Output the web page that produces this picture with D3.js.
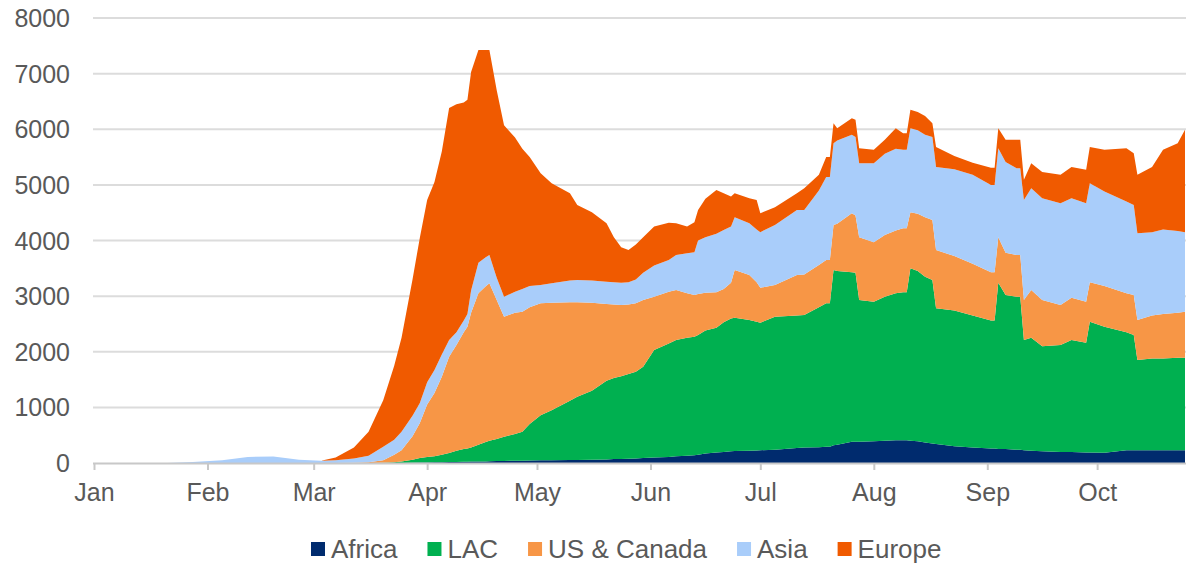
<!DOCTYPE html>
<html>
<head>
<meta charset="utf-8">
<script src="https://cdn.jsdelivr.net/npm/d3@7"></script>
<style>
  body { margin: 0; background: #fff; }
  svg text { font-family: "Liberation Sans", Arial, Helvetica, sans-serif; fill: #595959; }
</style>
</head>
<body>
<div class="chart"></div>
<script>
const dates = ["2020-01-01","2020-01-21","2020-01-28","2020-02-05","2020-02-12","2020-02-19","2020-02-26","2020-03-03","2020-03-07","2020-03-12","2020-03-16","2020-03-20","2020-03-23","2020-03-25","2020-03-28","2020-03-30","2020-04-01","2020-04-03","2020-04-05","2020-04-07","2020-04-09","2020-04-11","2020-04-12","2020-04-13","2020-04-15","2020-04-17","2020-04-18","2020-04-20","2020-04-22","2020-04-25","2020-04-27","2020-04-29","2020-05-02","2020-05-05","2020-05-10","2020-05-12","2020-05-16","2020-05-20","2020-05-22","2020-05-24","2020-05-26","2020-05-28","2020-05-30","2020-06-02","2020-06-06","2020-06-08","2020-06-11","2020-06-13","2020-06-14","2020-06-16","2020-06-19","2020-06-21","2020-06-23","2020-06-24","2020-06-28","2020-06-30","2020-07-01","2020-07-05","2020-07-11","2020-07-13","2020-07-17","2020-07-19","2020-07-20","2020-07-21","2020-07-22","2020-07-26","2020-07-27","2020-07-28","2020-08-01","2020-08-04","2020-08-07","2020-08-09","2020-08-10","2020-08-11","2020-08-13","2020-08-15","2020-08-17","2020-08-18","2020-08-23","2020-08-28","2020-09-02","2020-09-03","2020-09-04","2020-09-06","2020-09-09","2020-09-10","2020-09-11","2020-09-13","2020-09-16","2020-09-21","2020-09-24","2020-09-28","2020-09-29","2020-10-03","2020-10-09","2020-10-11","2020-10-12","2020-10-16","2020-10-19","2020-10-23","2020-10-25"];

const africa = [0,0,0,0,0,0,0,0,0,0,0,0,0,0,5,8,10,12,15,18,20,22,24,25,28,29,30,35,38,40,42,45,50,50,55,55,60,65,70,70,75,80,90,100,110,120,130,140,150,170,190,200,210,215,220,225,230,240,270,280,285,290,290,320,330,380,380,380,390,400,410,410,410,400,390,370,350,340,300,280,260,260,250,250,240,240,230,220,210,200,200,190,190,185,230,230,230,230,230,230,230];

const lac = [0,0,0,0,0,0,0,0,0,0,0,5,15,25,55,82,100,108,135,162,200,228,236,255,302,350,370,395,432,480,518,655,810,900,1065,1135,1240,1415,1460,1490,1525,1560,1640,1930,2040,2090,2120,2130,2150,2210,2240,2330,2390,2395,2350,2315,2290,2390,2380,2380,2515,2580,2580,3150,3120,3050,3040,2550,2510,2590,2640,2660,2660,3100,3060,2980,2940,2440,2440,2370,2300,2300,2990,2770,2750,2750,1980,2030,1890,1920,2010,1970,2350,2265,2120,2070,1620,1650,1650,1660,1660];

const usCanada = [0,0,0,0,0,0,0,0,0,5,15,45,135,205,420,630,940,1140,1400,1730,1900,2100,2190,2420,2720,2800,2830,2500,2160,2180,2160,2100,2010,1930,1770,1700,1580,1380,1320,1280,1250,1230,1200,960,930,900,800,750,740,680,640,600,640,860,810,710,630,570,730,730,760,780,780,810,850,1060,1030,1130,1070,1110,1130,1150,1150,1010,1030,1070,1080,1050,980,930,870,870,820,760,750,750,720,860,830,720,760,740,710,730,700,720,720,770,800,810,830];

const asia = [0,0,20,50,110,115,60,40,50,75,115,240,270,330,370,360,400,410,400,300,230,210,230,400,550,520,510,400,360,380,410,380,330,350,390,400,400,400,400,400,400,430,490,560,570,630,720,770,960,1000,1050,1060,1010,950,930,950,1000,1080,1170,1160,1340,1490,1490,1470,1500,1410,1410,1330,1420,1460,1470,1410,1410,1510,1500,1480,1490,1490,1560,1600,1570,1570,1600,1630,1560,1560,1800,1830,1830,1830,1790,1770,1780,1700,1650,1620,1560,1500,1520,1470,1430];

const europe = [0,0,0,0,0,0,0,0,50,200,430,840,1330,1690,2450,2970,3280,3380,3650,4170,4100,3920,3850,3930,3825,3726,3685,3370,3080,2770,2520,2320,2010,1800,1570,1350,1230,1050,810,640,580,630,640,700,670,570,480,540,550,690,790,660,540,430,450,530,340,320,300,390,280,360,360,360,220,300,310,270,240,250,370,300,300,330,330,340,250,360,240,220,310,310,360,400,510,510,360,450,470,510,560,600,650,750,960,930,1050,1170,1430,1580,1840];

const seriesNames = ["Africa", "LAC", "US & Canada", "Asia", "Europe"];
const seriesColors = ["#002b6e", "#00b050", "#f79646", "#a9cdfa", "#f05a00"];
const yTicks = [0, 1000, 2000, 3000, 4000, 5000, 6000, 7000, 8000];

const parseDate = d3.utcParse("%Y-%m-%d");
const rows = dates.map((d, i) => ({
    date: parseDate(d),
    "Africa": africa[i],
    "LAC": lac[i],
    "US & Canada": usCanada[i],
    "Asia": asia[i],
    "Europe": europe[i]
}));

const width = 1186, height = 564;
const plot = {left: 94, right: 1185, top: 18, bottom: 463};

const svg = d3.select('.chart')
              .append('svg')
              .attr('width', width)
              .attr('height', height);

const xScale = d3.scaleUtc()
                 .domain([parseDate("2020-01-01"), parseDate("2020-10-25")])
                 .range([plot.left, plot.right]);

const yScale = d3.scaleLinear()
                 .domain([0, 8000])
                 .range([plot.bottom, plot.top]);

// gridlines
svg.append('g')
   .selectAll('line')
   .data(yTicks.filter(d => d > 0))
   .join('line')
   .attr('x1', plot.left - 1)
   .attr('x2', width)
   .attr('y1', d => yScale(d))
   .attr('y2', d => yScale(d))
   .attr('stroke', '#dcdcdc')
   .attr('stroke-width', 2);

// y labels
svg.append('g')
   .selectAll('text')
   .data(yTicks)
   .join('text')
   .attr('x', 70)
   .attr('y', d => yScale(d))
   .attr('dy', '0.36em')
   .attr('text-anchor', 'end')
   .attr('font-size', 25)
   .text(d => d);

const stack = d3.stack().keys(seriesNames);
const layers = stack(rows);

const area = d3.area()
               .x(d => xScale(d.data.date))
               .y0(d => yScale(d[0]))
               .y1(d => yScale(d[1]));

svg.append('g')
   .selectAll('path')
   .data(layers)
   .join('path')
   .attr('fill', (d, i) => seriesColors[i])
   .attr('d', area);

// x axis
const xAxis = d3.axisBottom(xScale)
                .ticks(d3.utcMonth.every(1))
                .tickFormat(d3.utcFormat('%b'))
                .tickSize(7)
                .tickPadding(13);

const gx = svg.append('g')
              .attr('transform', `translate(0, ${plot.bottom})`)
              .call(xAxis);
gx.select('.domain').attr('stroke', '#c8c8c8').attr('stroke-width', 2)
  .attr('d', `M${plot.left - 1},0.5H${width}`);
gx.selectAll('.tick line').attr('stroke', '#c8c8c8').attr('stroke-width', 2);
gx.selectAll('.tick text')
  .attr('font-size', 25)
  .attr('font-family', '"Liberation Sans", Arial, sans-serif')
  .attr('fill', '#595959');

// legend
const legend = svg.append('g');
let lx = 311;
seriesNames.forEach((name, i) => {
    legend.append('rect')
          .attr('x', lx)
          .attr('y', 542)
          .attr('width', 14)
          .attr('height', 14)
          .attr('fill', seriesColors[i]);
    const t = legend.append('text')
                    .attr('x', lx + 20)
                    .attr('y', 558)
                    .attr('font-size', 26)
                    .text(name);
    lx += 20 + t.node().getComputedTextLength() + 30;
});
</script>
</body>
</html>
